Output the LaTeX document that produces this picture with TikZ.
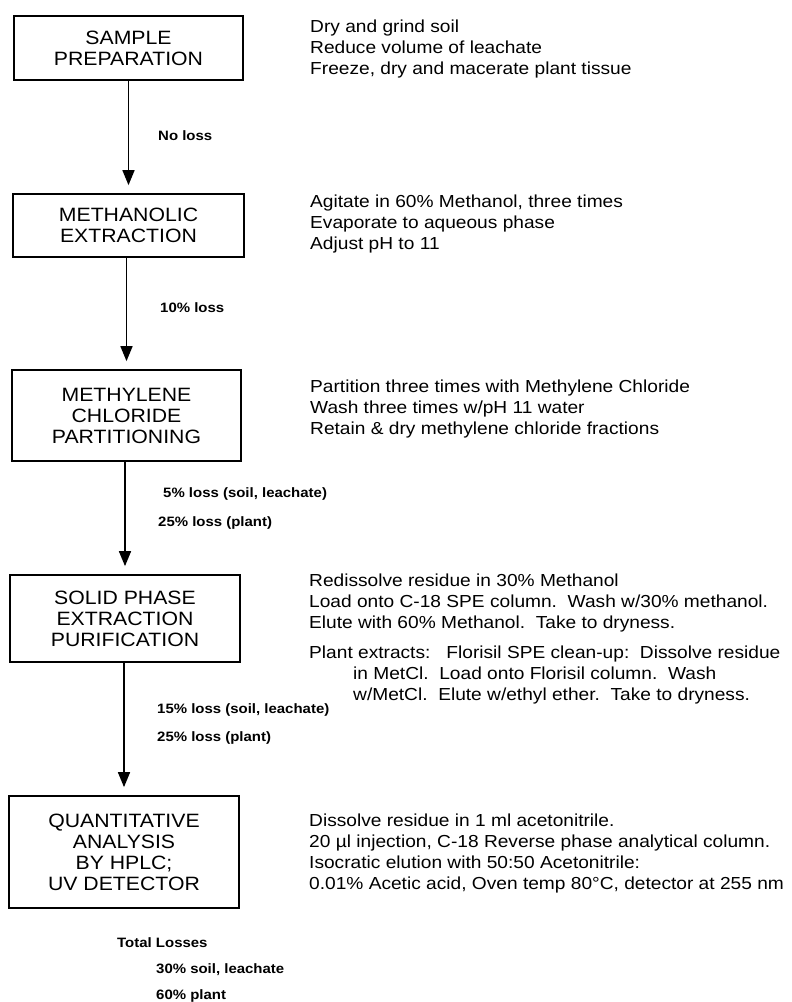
\documentclass[tikz,border=0pt]{standalone}
\usepackage{fontspec}
\setmainfont{Liberation Sans}[FakeStretch=1.1]
\usetikzlibrary{arrows.meta}
\begin{document}
\begin{tikzpicture}[x=1pt,y=-1pt,
  stepbox/.style={draw,line width=1.7pt,inner sep=0pt,align=center,
    font=\fontsize{19.3}{21}\selectfont},
  desc/.style={anchor=west,inner sep=0pt,align=left,
    font=\fontsize{17.4}{21}\selectfont},
  loss/.style={anchor=west,inner sep=0pt,font=\fontsize{13.6}{16}\selectfont\bfseries},
  flow/.style={line width=1.6pt,-{Triangle[length=15pt,width=12pt]},shorten >=8pt}]
\useasboundingbox (0,0) rectangle (792,1002);

\node[stepbox,minimum width=229pt,minimum height=64pt] (b1) at (128.5,48) {SAMPLE\\PREPARATION};
\node[stepbox,minimum width=231pt,minimum height=63pt] (b2) at (128.5,225.5) {METHANOLIC\\EXTRACTION};
\node[stepbox,minimum width=229pt,minimum height=91pt] (b3) at (126.5,415.5) {METHYLENE\\CHLORIDE\\PARTITIONING};
\node[stepbox,minimum width=230pt,minimum height=87pt] (b4) at (125,618.5) {SOLID PHASE\\EXTRACTION\\PURIFICATION};
\node[stepbox,minimum width=230pt,minimum height=112pt] (b5) at (124,852) {QUANTITATIVE\\ANALYSIS\\BY HPLC;\\UV DETECTOR};

\draw[flow] (b1.south) -- (b1.south |- b2.north);
\draw[flow] (b2.south -| b3.north) -- (b3.north);
\draw[flow] (b3.south -| b4.north) -- (b4.north);
\draw[flow] (b4.south -| b5.north) -- (b5.north);

\node[loss] (l1) at (158,136) {No loss};
\node[loss] (l2) at (160,308) {10\% loss};
\node[loss] (l3a) at (163,494) {5\% loss (soil, leachate)};
\node[loss] (l3b) at (158,523) {25\% loss (plant)};
\node[loss] (l4a) at (157,710) {15\% loss (soil, leachate)};
\node[loss] (l4b) at (157,738) {25\% loss (plant)};

\node[loss] (t0) at (117,943) {Total Losses};
\node[loss] (t1) at (156,970) {30\% soil, leachate};
\node[loss] (t2) at (156,996) {60\% plant};

\node[desc] (d1) at (310,49) {Dry and grind soil\\Reduce volume of leachate\\Freeze, dry and macerate plant tissue};
\node[desc] (d2) at (310,224) {Agitate in 60\% Methanol, three times\\Evaporate to aqueous phase\\Adjust pH to 11};
\node[desc] (d3) at (310,409) {Partition three times with Methylene Chloride\\Wash three times w/pH 11 water\\Retain \& dry methylene chloride fractions};
\node[desc] (d4) at (309,603) {Redissolve residue in 30\% Methanol\\Load onto C-18 SPE column.\ \ Wash w/30\% methanol.\\Elute with 60\% Methanol.\ \ Take to dryness.};
\node[desc] (d5) at (309,675) {Plant extracts:\ \ \ Florisil SPE clean-up:\ \ Dissolve residue\\\hspace*{44pt}in MetCl.\ \ Load onto Florisil column.\ \ Wash\\\hspace*{44pt}w/MetCl.\ \ Elute w/ethyl ether.\ \ Take to dryness.};
\node[desc] (d6) at (309,853) {Dissolve residue in 1 ml acetonitrile.\\20 µl injection, C-18 Reverse phase analytical column.\\Isocratic elution with 50:50 Acetonitrile:\\0.01\% Acetic acid, Oven temp 80°C, detector at 255 nm};
\end{tikzpicture}
\end{document}
